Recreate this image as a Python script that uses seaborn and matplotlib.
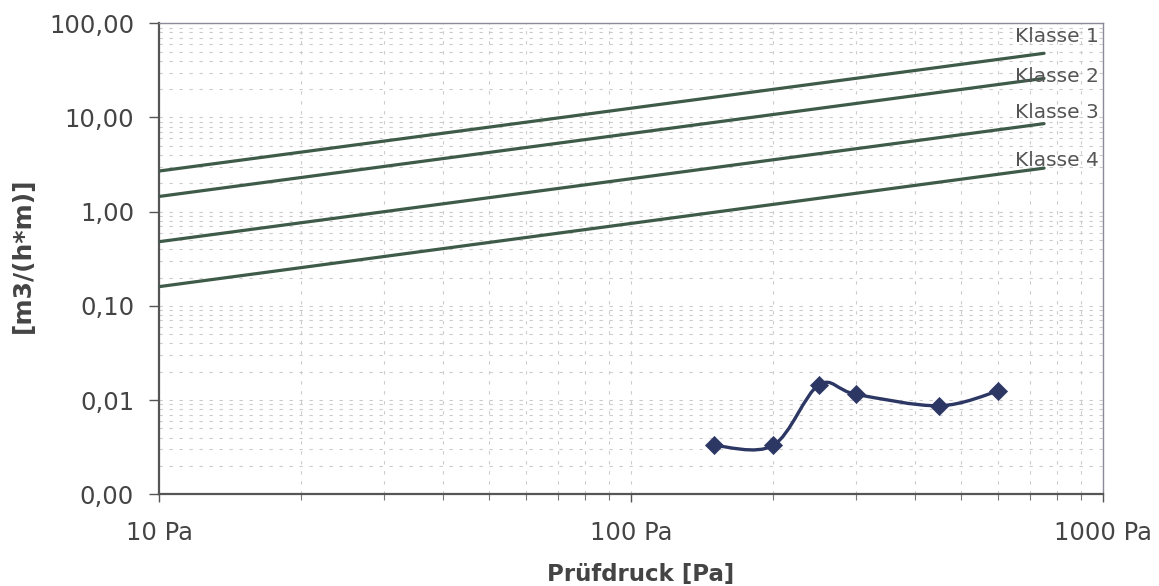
import numpy as np
import pandas as pd
import matplotlib
matplotlib.use("Agg")
import matplotlib.pyplot as plt
import seaborn as sns
from matplotlib.path import Path
from matplotlib.patches import PathPatch
from matplotlib.ticker import FixedLocator, LogLocator, NullFormatter

# ---------------- data ----------------
pressure_classes = [10, 750]
klasse_1 = [2.7, 48.0]
klasse_2 = [1.45, 26.0]
klasse_3 = [0.48, 8.6]
klasse_4 = [0.16, 2.9]
class_labels = ["Klasse 1", "Klasse 2", "Klasse 3", "Klasse 4"]

measured_pressure = [150, 200, 250, 300, 450, 600]
measured_leakage = [0.0033, 0.0033, 0.0145, 0.0115, 0.0087, 0.0125]

x_ticks = [10, 100, 1000]
x_tick_labels = ["10 Pa", "100 Pa", "1000 Pa"]
y_ticks = [0.001, 0.01, 0.1, 1, 10, 100]
y_tick_labels = ["0,00", "0,01", "0,10", "1,00", "10,00", "100,00"]

x_label = "Prüfdruck [Pa]"
y_label = "[m3/(h*m)]"

# ---------------- style ----------------
sns.set_theme(style="white")
plt.rcParams["font.family"] = ["DejaVu Sans"]

class_color = "#3e5a48"
data_color = "#2c3764"
text_color = "#444444"

fig = plt.figure(figsize=(11.59, 5.86), dpi=100)
ax = fig.add_axes([0.1372, 0.1565, 0.8145, 0.8038])

# class lines
class_df = pd.concat(
    [pd.DataFrame({"Pa": pressure_classes, "q": vals, "Klasse": lab})
     for vals, lab in zip([klasse_1, klasse_2, klasse_3, klasse_4], class_labels)],
    ignore_index=True)
sns.lineplot(data=class_df, x="Pa", y="q", hue="Klasse",
             palette=[class_color] * 4, linewidth=2.3, legend=False, ax=ax, zorder=3)

ax.set_xscale("log")
ax.set_yscale("log")
ax.set_xlim(10, 1000)
ax.set_ylim(0.001, 100)

# smoothed measurement curve (Excel-style smoothing, Bezier in log space)
lx = np.log10(measured_pressure)
ly = np.log10(measured_leakage)
pts = np.column_stack([lx, ly])
n = len(pts)
verts = [pts[0]]
codes = [Path.MOVETO]
for i in range(n - 1):
    p0 = pts[i - 1] if i > 0 else pts[i]
    p1 = pts[i]
    p2 = pts[i + 1]
    p3 = pts[i + 2] if i + 2 < n else pts[i + 1]
    c1 = p1 + (p2 - p0) / 6.0
    c2 = p2 - (p3 - p1) / 6.0
    verts += [c1, c2, p2]
    codes += [Path.CURVE4] * 3
verts = 10 ** np.array(verts)
patch = PathPatch(Path(verts, codes), fill=False, edgecolor=data_color,
                  linewidth=2.4, zorder=4, transform=ax.transData)
ax.add_patch(patch)

meas_df = pd.DataFrame({"Pa": measured_pressure, "q": measured_leakage})
sns.scatterplot(data=meas_df, x="Pa", y="q", marker="D", s=85, color=data_color,
                edgecolor=data_color, linewidth=0.5, ax=ax, zorder=5, legend=False)

# ticks
ax.xaxis.set_major_locator(FixedLocator(x_ticks))
ax.set_xticklabels(x_tick_labels)
ax.xaxis.set_minor_locator(LogLocator(base=10, subs=np.arange(2, 10)))
ax.xaxis.set_minor_formatter(NullFormatter())
ax.yaxis.set_major_locator(FixedLocator(y_ticks))
ax.set_yticklabels(y_tick_labels)
ax.yaxis.set_minor_locator(LogLocator(base=10, subs=np.arange(2, 10)))
ax.yaxis.set_minor_formatter(NullFormatter())

ax.tick_params(axis="x", which="major", direction="out", length=6, width=1,
               color="#555555", pad=13, labelsize=17.5, labelcolor=text_color, bottom=True)
ax.tick_params(axis="x", which="minor", direction="out", length=4, width=0.8,
               color="#777777", bottom=True)
ax.tick_params(axis="y", which="major", direction="out", length=7, width=1,
               color="#555555", pad=11, labelsize=17.5, labelcolor=text_color, left=True)
ax.tick_params(axis="y", which="minor", length=0, left=False)

ax.grid(which="both", color="#cccccc", linestyle=(0, (3, 6)), linewidth=0.8, zorder=0)
ax.set_axisbelow(True)

for side in ["left", "bottom"]:
    ax.spines[side].set_color("#555555")
    ax.spines[side].set_linewidth(1.6)
for side in ["top", "right"]:
    ax.spines[side].set_color("#8a8a98")
    ax.spines[side].set_linewidth(1.0)

ax.set_xlabel(x_label, fontsize=16.5, fontweight="bold", color=text_color)
ax.xaxis.set_label_coords(0.51, -0.146)
ax.set_ylabel(y_label, fontsize=18, fontweight="bold", color=text_color)
ax.yaxis.set_label_coords(-0.131, 0.507)

# class labels
label_y = [0.971, 0.888, 0.810, 0.708]
for lab, yy in zip(class_labels, label_y):
    ax.text(0.907, yy, lab, transform=ax.transAxes, fontsize=14.5,
            color="#555555", ha="left", va="center", zorder=6)

fig.savefig("out.png", dpi=100, facecolor="white")
